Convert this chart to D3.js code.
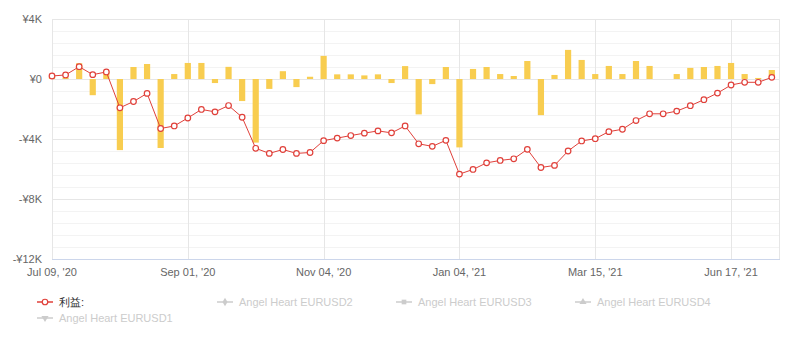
<!DOCTYPE html>
<html>
<head>
<meta charset="utf-8">
<script src="https://cdn.jsdelivr.net/npm/d3@7"></script>
<style>
  html, body { margin: 0; padding: 0; background: #fff; }
  svg { display: block; font-family: "Liberation Sans", Arial, Helvetica, sans-serif; }
</style>
</head>
<body>
<svg id="chart" width="786" height="340"></svg>
<script>
// Cumulative profit per period (yen)
const profit = [
  200, 270, 820, 290, 470, -1920, -1500, -960, -3300, -3130,
  -2600, -2030, -2190, -1770, -2550, -4620, -4960, -4700, -4960, -4900,
  -4110, -3940, -3770, -3610, -3460, -3590, -3130, -4320, -4490, -4090,
  -6340, -6030, -5590, -5430, -5320, -4690, -5900, -5760, -4800, -4130,
  -3980, -3510, -3350, -2770, -2320, -2320, -2140, -1780, -1380, -940,
  -400, -220, -220, 110
];
// Result of each period (yen)
const periodResult = [
  150, 100, 1050, -1080, 550, -4740, 800, 1000, -4600, 330,
  1070, 1070, -270, 810, -1470, -4240, -660, 520, -540, 150,
  1540, 310, 310, 240, 310, -270, 860, -2360, -340, 800,
  -4560, 670, 800, 330, 200, 1200, -2410, 270, 1940, 1270,
  330, 870, 330, 1200, 870, 0, 330, 740, 800, 870,
  1070, 330, 70, 600
];
const xTickIndex = [0, 10, 20, 30, 40, 50];
const xTickLabels = ["Jul 09, '20", "Sep 01, '20", "Nov 04, '20", "Jan 04, '21", "Mar 15, '21", "Jun 17, '21"];
const yTicks = [4000, 0, -4000, -8000, -12000];
const yTickLabels = ["¥4K", "¥0", "-¥4K", "-¥8K", "-¥12K"];
const legendNames = ["利益:", "Angel Heart EURUSD2", "Angel Heart EURUSD3", "Angel Heart EURUSD4", "Angel Heart EURUSD1"];

const svg = d3.select("#chart");
const plotLeft = 52, plotRight = 779, plotTop = 19, plotBottom = 259;

const x = d3.scaleLinear().domain([0, 53.53]).range([plotLeft, plotRight]);
const y = d3.scaleLinear().domain([-12000, 4000]).range([plotBottom, plotTop]);

const grid = svg.append("g");
// minor horizontal grid
grid.selectAll("line.minor")
  .data(d3.range(-12000, 4001, 800))
  .join("line")
  .attr("x1", plotLeft).attr("x2", plotRight)
  .attr("y1", d => Math.round(y(d)) + 0.5).attr("y2", d => Math.round(y(d)) + 0.5)
  .attr("stroke", "#f3f3f3");
// major horizontal grid
grid.selectAll("line.major")
  .data(yTicks)
  .join("line")
  .attr("x1", plotLeft).attr("x2", plotRight)
  .attr("y1", d => Math.round(y(d)) + 0.5).attr("y2", d => Math.round(y(d)) + 0.5)
  .attr("stroke", "#e6e6e6");
// vertical grid at labelled points, plus right edge
grid.selectAll("line.v")
  .data(xTickIndex.map(i => Math.round(x(i)) + 0.5).concat([plotRight + 0.5]))
  .join("line")
  .attr("x1", d => d).attr("x2", d => d)
  .attr("y1", plotTop).attr("y2", plotBottom)
  .attr("stroke", "#e6e6e6");
// x axis line
svg.append("line")
  .attr("x1", plotLeft).attr("x2", plotRight + 1)
  .attr("y1", plotBottom + 0.5).attr("y2", plotBottom + 0.5)
  .attr("stroke", "#ccd6eb");

// y labels
svg.append("g").selectAll("text")
  .data(yTicks)
  .join("text")
  .attr("x", 42).attr("y", d => y(d) + 4)
  .attr("text-anchor", "end")
  .attr("font-size", 11).attr("fill", "#666")
  .text((d, i) => yTickLabels[i]);

// x labels
svg.append("g").selectAll("text")
  .data(xTickIndex)
  .join("text")
  .attr("x", d => x(d)).attr("y", 276)
  .attr("text-anchor", "middle")
  .attr("font-size", 11).attr("fill", "#666")
  .text((d, i) => xTickLabels[i]);

// bars
const barW = 6.2;
svg.append("g").selectAll("rect")
  .data(periodResult)
  .join("rect")
  .attr("x", (d, i) => x(i) - barW / 2)
  .attr("width", barW)
  .attr("y", d => y(Math.max(0, d)))
  .attr("height", d => Math.abs(y(d) - y(0)))
  .attr("fill", "#f8cd50");

// cumulative line
const red = "#e0403a";
const line = d3.line().x((d, i) => x(i)).y(d => y(d));
svg.append("path")
  .datum(profit)
  .attr("d", line)
  .attr("fill", "none")
  .attr("stroke", red)
  .attr("stroke-width", 1);
svg.append("g").selectAll("circle")
  .data(profit)
  .join("circle")
  .attr("cx", (d, i) => x(i)).attr("cy", d => y(d))
  .attr("r", 2.8)
  .attr("fill", "#fff")
  .attr("stroke", red)
  .attr("stroke-width", 1.2);

// legend
const legendPos = [[37, 306], [217, 306], [396, 306], [575, 306], [37, 322]];
const symbols = [d3.symbolCircle, d3.symbolDiamond, d3.symbolSquare, d3.symbolTriangle, d3.symbolTriangle];
const lg = svg.append("g");
legendNames.forEach((name, i) => {
  const [lx, ly] = legendPos[i];
  const active = i === 0;
  const col = active ? red : "#cccccc";
  const g = lg.append("g").attr("transform", `translate(${lx},${ly})`);
  g.append("line")
    .attr("x1", 0).attr("x2", 16)
    .attr("y1", -4).attr("y2", -4)
    .attr("stroke", col).attr("stroke-width", 1.5);
  const sym = g.append("path")
    .attr("d", d3.symbol().type(symbols[i]).size(active ? 24 : 22)())
    .attr("transform", `translate(8,-4)` + (i === 4 ? " rotate(180)" : ""));
  if (active) sym.attr("fill", "#fff").attr("stroke", red).attr("stroke-width", 1.2);
  else sym.attr("fill", col);
  g.append("text")
    .attr("x", 22).attr("y", 0)
    .attr("font-size", 11)
    .attr("fill", active ? "#333" : "#cccccc")
    .text(name);
});
</script>
</body>
</html>
